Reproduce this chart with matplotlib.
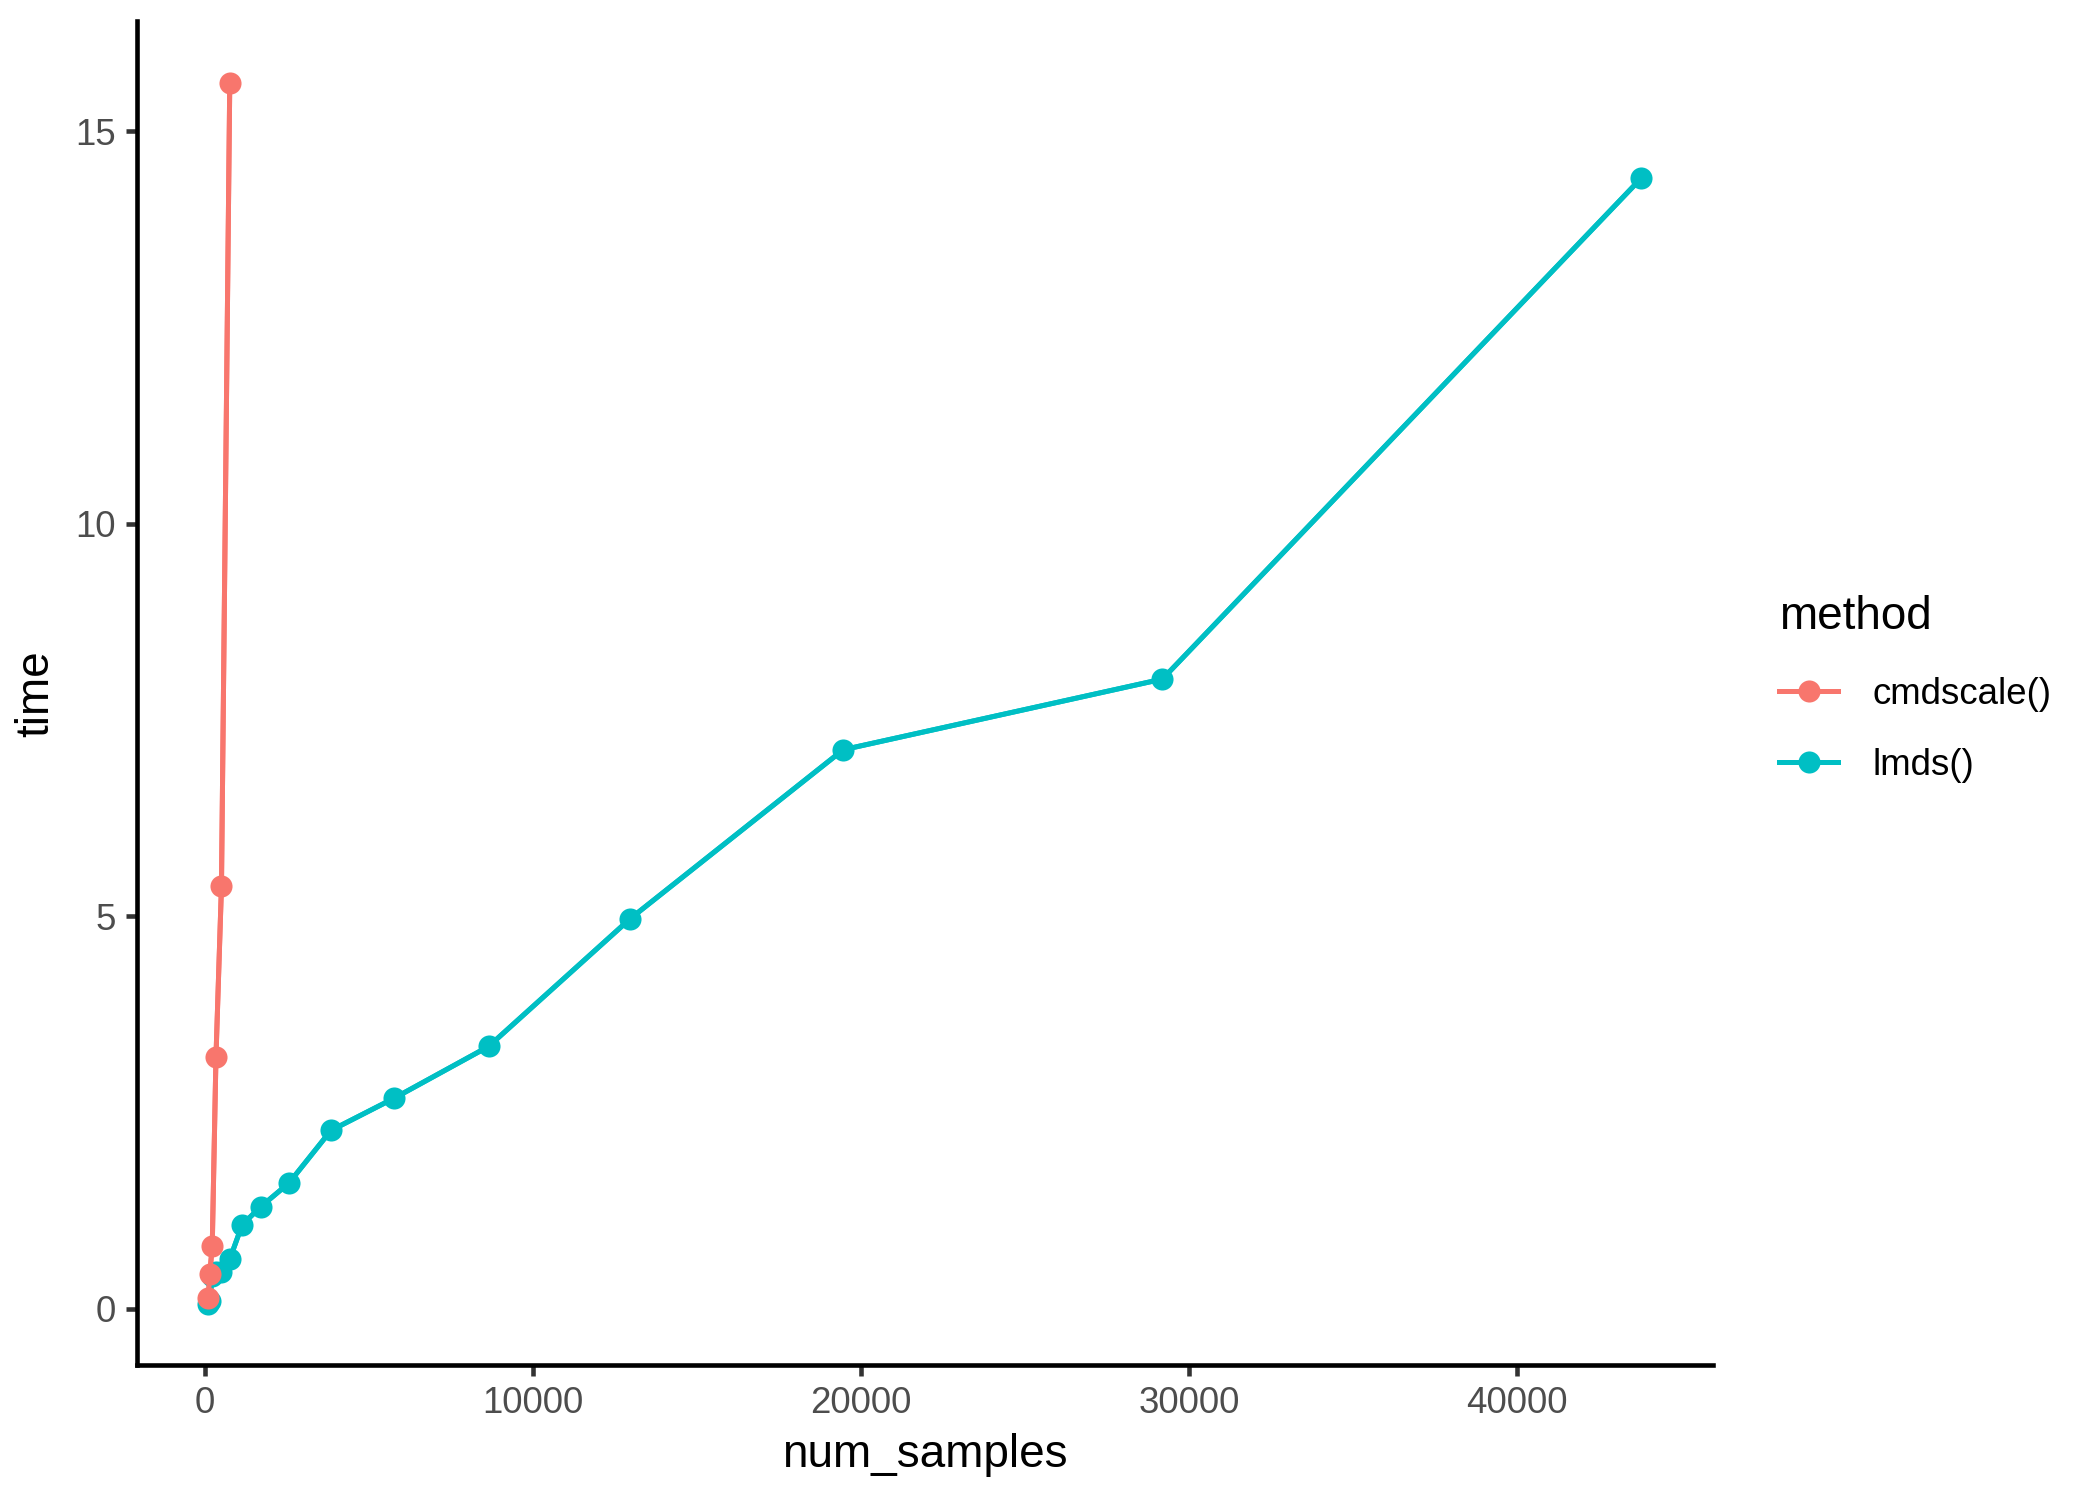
import matplotlib
matplotlib.use("Agg")
import matplotlib.pyplot as plt
import numpy as np

plt.rcParams['font.family'] = ['Liberation Sans', 'DejaVu Sans']

# num_samples grows by x1.5 per step
cmd_samples = [100, 150, 225, 338, 506, 759]
cmd_time = [0.13, 0.44, 0.80, 3.20, 5.38, 15.62]

lmds_samples = [100, 150, 225, 338, 506, 759, 1139, 1709, 2563, 3844,
                5767, 8650, 12975, 19462, 29193, 43789]
lmds_time = [0.06, 0.10, 0.42, 0.47, 0.47, 0.63, 1.07, 1.30, 1.60, 2.27,
             2.68, 3.34, 4.97, 7.12, 8.02, 14.40]

methods = ['cmdscale()', 'lmds()']
colors = ['#F8766D', '#00BFC4']

fig = plt.figure(figsize=(7, 5), dpi=300)
ax = fig.add_axes([0.065, 0.09, 0.7506, 0.8957])

series = [(cmd_samples, cmd_time), (lmds_samples, lmds_time)]
for (xs, ys), col in zip(series, colors):
    ax.plot(xs, ys, color=col, lw=1.2, zorder=2)
# points: lmds first, cmdscale drawn on top
point_z = [4, 3]
for (xs, ys), name, col, z in zip(series, methods, colors, point_z):
    ax.plot(xs, ys, color=col, lw=1.2, marker='o', markersize=5.3,
            markeredgewidth=0, label=name, zorder=z)

# ggplot-style 5% expansion
allx = np.array(cmd_samples + lmds_samples)
ally = np.array(cmd_time + lmds_time)
dx = (allx.max() - allx.min()) * 0.05
dy = (ally.max() - ally.min()) * 0.05
ax.set_xlim(allx.min() - dx, allx.max() + dx)
ax.set_ylim(ally.min() - dy, ally.max() + dy)

ax.set_xticks([0, 10000, 20000, 30000, 40000])
ax.set_xticklabels(['0', '10000', '20000', '30000', '40000'])
ax.set_yticks([0, 5, 10, 15])

for s in ['top', 'right']:
    ax.spines[s].set_visible(False)
for s in ['left', 'bottom']:
    ax.spines[s].set_linewidth(1.1)
    ax.spines[s].set_color('black')
ax.tick_params(axis='both', length=2.75, width=1.1, color='#333333',
               labelsize=8.8, labelcolor='#4D4D4D', pad=2.2)

ax.set_xlabel('num_samples', fontsize=11, labelpad=3)
ax.set_ylabel('time', fontsize=11, labelpad=4)

leg = ax.legend(loc='center left', bbox_to_anchor=(1.033, 0.503), frameon=False,
                title='method', alignment='left', fontsize=8.8,
                title_fontsize=11, handlelength=1.6, handletextpad=0.95,
                labelspacing=1.0, borderaxespad=0)
leg._legend_box.sep = 9

fig.savefig('out.png', dpi=300)
